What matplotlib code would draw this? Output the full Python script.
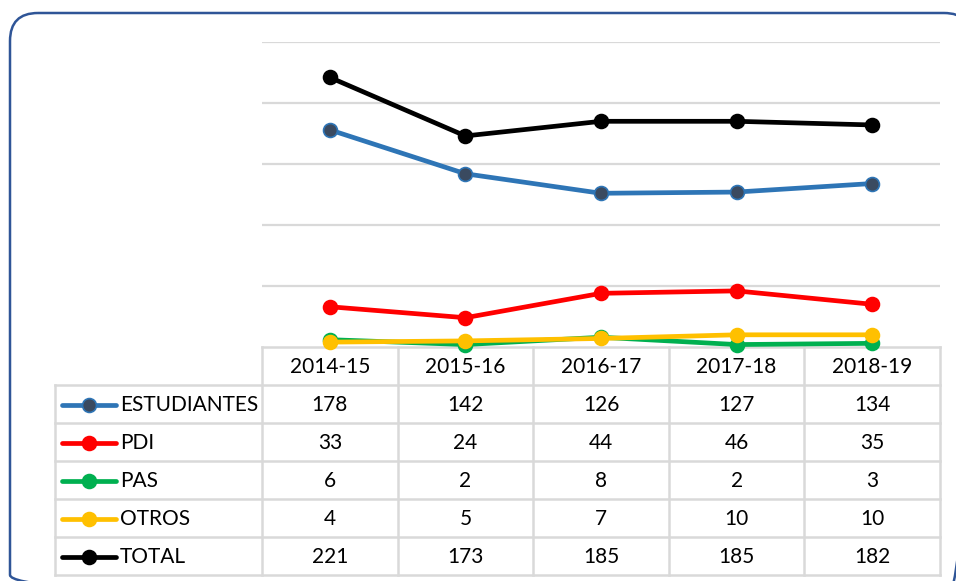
import matplotlib.pyplot as plt
from matplotlib.patches import FancyBboxPatch

plt.rcParams['font.family'] = ['Lato', 'DejaVu Sans']

cursos = ['2014-15', '2015-16', '2016-17', '2017-18', '2018-19']
series = ['ESTUDIANTES', 'PDI', 'PAS', 'OTROS', 'TOTAL']
estudiantes = [178, 142, 126, 127, 134]
pdi = [33, 24, 44, 46, 35]
pas = [6, 2, 8, 2, 3]
otros = [4, 5, 7, 10, 10]
total = [221, 173, 185, 185, 182]
valores = [estudiantes, pdi, pas, otros, total]

colores = ['#2e75b6', '#ff0000', '#00b050', '#ffc000', '#000000']
relleno = ['#3a4a60', '#ff0000', '#00b050', '#ffc000', '#000000']

W, H = 956, 581
fig = plt.figure(figsize=(W / 100, H / 100), dpi=100)

def fx(px):
    return px / W

def fy(py):
    return 1 - py / H

# background axes in pixel units (y downwards) for frame and table
tb = fig.add_axes([0, 0, 1, 1], zorder=-1)
tb.set_xlim(0, W)
tb.set_ylim(H, 0)
tb.axis('off')
tb.patch.set_alpha(0)

# rounded frame (right and bottom edges run off the picture)
marco = FancyBboxPatch((10, 13), 962, 590,
                       boxstyle='round,pad=0,rounding_size=28',
                       fill=False, edgecolor='#2f5597', linewidth=1.8,
                       clip_on=False)
tb.add_patch(marco)

# chart area
x0, x1, ybase, ytop = 262, 940, 347, 42
ax = fig.add_axes([fx(x0), fy(ybase), fx(x1 - x0), (ybase - ytop) / H])
ax.set_xlim(-0.5, len(cursos) - 0.5)
ax.set_ylim(0, 250)
for v in range(50, 251, 50):
    ax.axhline(v, color='#d9d9d9', lw=1.6, zorder=0)
for s in ax.spines.values():
    s.set_visible(False)
ax.set_xticks([])
ax.set_yticks([])
ax.patch.set_alpha(0)

xs = range(len(cursos))
for vals, c, f in zip(valores, colores, relleno):
    ax.plot(xs, vals, color=c, lw=3.4, marker='o', ms=10,
            markerfacecolor=f, markeredgecolor=c, markeredgewidth=1.2,
            clip_on=False, zorder=3)

# data table
gris = '#d9d9d9'
lx0 = 55
col_w = (x1 - x0) / len(cursos)
filas = [347, 385, 423, 461, 499, 537, 575]

tb.plot([x0, x1], [filas[0], filas[0]], color=gris, lw=1.8)
for yy in filas[1:]:
    tb.plot([lx0, x1], [yy, yy], color=gris, lw=1.8)
tb.plot([lx0, lx0], [filas[1], filas[-1]], color=gris, lw=1.8)
for i in range(len(cursos) + 1):
    xx = x0 + i * col_w
    tb.plot([xx, xx], [filas[0], filas[-1]], color=gris, lw=1.8)

fs = 15
for i, cur in enumerate(cursos):
    tb.text(x0 + (i + 0.5) * col_w, (filas[0] + filas[1]) / 2 + 1, cur,
            ha='center', va='center', fontsize=fs, color='#000000')

for r, (nombre, vals, c, f) in enumerate(zip(series, valores, colores, relleno)):
    yc = (filas[r + 1] + filas[r + 2]) / 2 + 1
    tb.plot([62, 116], [yc, yc], color=c, lw=3.4, solid_capstyle='round')
    tb.plot([89], [yc], marker='o', ms=10, markerfacecolor=f,
            markeredgecolor=c, markeredgewidth=1.2)
    tb.text(120, yc, nombre, ha='left', va='center', fontsize=fs)
    for i, v in enumerate(vals):
        tb.text(x0 + (i + 0.5) * col_w, yc, str(v), ha='center',
                va='center', fontsize=fs)

fig.savefig('out.png', dpi=100)
